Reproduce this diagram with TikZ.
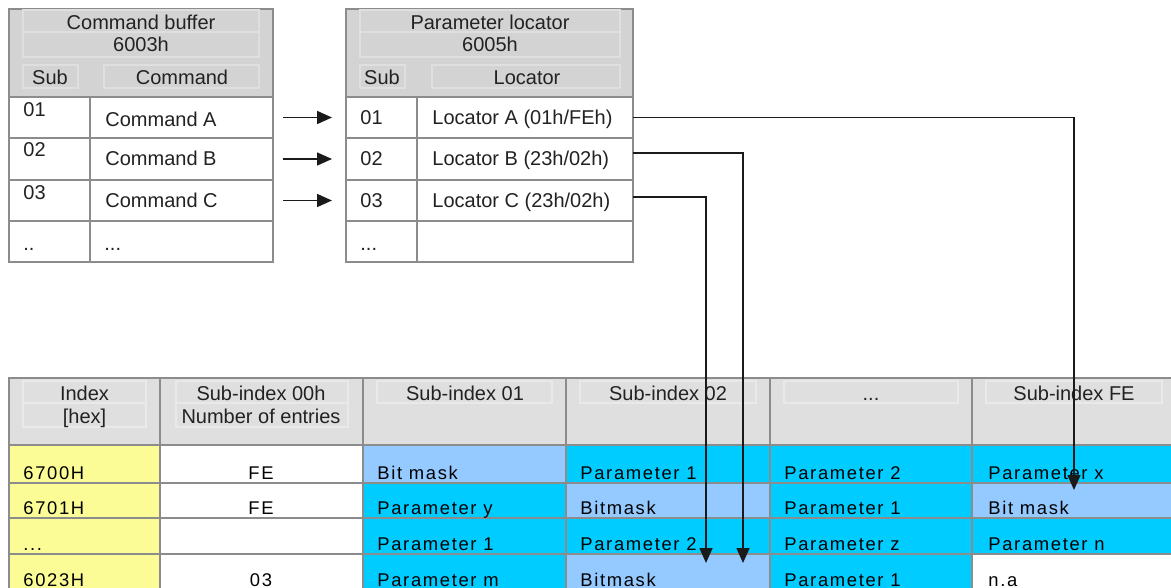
\documentclass[tikz,border=0pt]{standalone}
\usepackage{fontspec}
\setmainfont{Liberation Sans}
\newfontfamily\bodyfont[LetterSpace=9]{Liberation Sans}
\usetikzlibrary{arrows.meta}
\definecolor{gridc}{HTML}{8C8C8C}
\definecolor{hdrtop}{HTML}{D3D3D3}
\definecolor{hdrbot}{HTML}{DFDFDF}
\definecolor{innerc}{HTML}{DFDFDF}
\definecolor{innerb}{HTML}{E9E9E9}
\definecolor{yel}{HTML}{FCFC96}
\definecolor{lblue}{HTML}{94CAFF}
\definecolor{cyn}{HTML}{00CCFF}
\definecolor{txtc}{HTML}{222222}
\definecolor{connc}{HTML}{1A1A1A}
\tikzset{
  cellb/.style={draw=gridc, line width=0.75pt, inner sep=0pt, outer sep=0pt, anchor=north west, rectangle},
  txt/.style={inner sep=0pt, anchor=base west, text=txtc, font=\fontsize{10}{12}\selectfont},
  ctxt/.style={txt, anchor=base},
  btxt/.style={txt, text=black, font=\bodyfont\fontsize{9.2}{11}\selectfont},
  bctxt/.style={btxt, anchor=base},
  innerline/.style={draw=innerc, line width=0.6pt},
  innerlineb/.style={draw=innerb, line width=0.6pt},
  conn/.style={draw=connc, line width=0.8pt, -{Triangle[length=7.5pt,width=6.5pt]}},
}
\newcommand\cell[6]{\node[cellb,fill=#6,minimum width={(#4-#2)*0.5pt},minimum height={(#5-#3)*0.5pt}] (#1) at (#2,#3) {};}
\begin{document}
\begin{tikzpicture}[x=0.5pt,y=-0.5pt]
\useasboundingbox (0,0) rectangle (1171,588);
\clip (0,0) rectangle (1171,588);
\fill[white] (0,0) rectangle (1171,588);
% ---------- Command buffer ----------
\cell{cbh}{9}{9}{273}{97}{hdrtop}
\draw[innerline] (23,10) rectangle (259,57) (23,32) -- (259,32);
\draw[innerline] (23,65) rectangle (78,88) (104,65) rectangle (259,88);
\node[ctxt] (cbt1) at (141,30) {Command buffer};
\node[ctxt] (cbt2) at (141,52) {6003h};
\node[ctxt] (cbs) at (50,85) {Sub};
\node[ctxt] (cbc) at (182,85) {Command};
\cell{cs1}{9}{97}{90}{138}{white}\cell{cc1}{90}{97}{273}{138}{white}
\cell{cs2}{9}{138}{90}{180}{white}\cell{cc2}{90}{138}{273}{180}{white}
\cell{cs3}{9}{180}{90}{221}{white}\cell{cc3}{90}{180}{273}{221}{white}
\cell{cs4}{9}{221}{90}{262}{white}\cell{cc4}{90}{221}{273}{262}{white}
\node[txt] (cst1) at (23,117) {01};
\node[txt] (cct1) at (105,127) {Command A};
\node[txt] (cst2) at (23,157) {02};
\node[txt] (cct2) at (105,166) {Command B};
\node[txt] (cst3) at (23,199) {03};
\node[txt] (cct3) at (105,207) {Command C};
\node[txt] (cst4) at (23,250) {..};
\node[txt] (cct4) at (104,250) {...};
% ---------- Parameter locator ----------
\cell{lh}{346}{9}{633}{97}{hdrtop}
\draw[innerline] (360,10) rectangle (620,57) (360,32) -- (620,32);
\draw[innerline] (360,65) rectangle (405,88) (432,65) rectangle (620,88);
\node[ctxt] (lht1) at (490,30) {Parameter locator};
\node[ctxt] (lht2) at (490,52) {6005h};
\node[ctxt] (lhs) at (382,85) {Sub};
\node[ctxt] (lhl) at (527,85) {Locator};
\cell{ls1}{346}{97}{417}{138}{white}\cell{l1}{417}{97}{633}{138}{white}
\cell{ls2}{346}{138}{417}{180}{white}\cell{l2}{417}{138}{633}{180}{white}
\cell{ls3}{346}{180}{417}{221}{white}\cell{l3}{417}{180}{633}{221}{white}
\cell{ls4}{346}{221}{417}{262}{white}\cell{l4}{417}{221}{633}{262}{white}
\node[txt] (lst1) at (360,125) {01};
\node[txt] (lt1) at (432,125) {Locator A (01h/FEh)};
\node[txt] (lst2) at (360,166) {02};
\node[txt] (lt2) at (432,166) {Locator B (23h/02h)};
\node[txt] (lst3) at (360,207) {03};
\node[txt] (lt3) at (432,207) {Locator C (23h/02h)};
\node[txt] (lst4) at (360,250) {...};
% ---------- Object table ----------
\cell{hi}{9}{378}{160}{445}{hdrbot}
\cell{h0}{160}{378}{363}{445}{hdrbot}
\cell{h1}{363}{378}{566}{445}{hdrbot}
\cell{h2}{566}{378}{770}{445}{hdrbot}
\cell{h3}{770}{378}{972}{445}{hdrbot}
\cell{h4}{972}{378}{1176}{445}{hdrbot}
\draw[innerlineb] (23,381) rectangle (146,427) (23,403) -- (146,403);
\draw[innerlineb] (176,381) rectangle (348,427) (176,403) -- (348,403);
\draw[innerlineb] (377,381) rectangle (552,403);
\draw[innerlineb] (580,381) rectangle (756,403);
\draw[innerlineb] (784,381) rectangle (958,403);
\draw[innerlineb] (986,381) rectangle (1162,403);
\node[ctxt] (hit1) at (84.5,400) {Index};
\node[ctxt] (hit2) at (84.5,423) {[hex]};
\node[ctxt] (h0t1) at (261,400) {Sub-index 00h};
\node[ctxt] (h0t2) at (261,423) {Number of entries};
\node[ctxt] (h1t) at (465,400) {Sub-index 01};
\node[ctxt] (h2t) at (668,400) {Sub-index 02};
\node[ctxt] (h3t) at (871,400) {...};
\node[ctxt] (h4t) at (1074,400) {Sub-index FE};
% rows
\cell{i1}{9}{445}{160}{483}{yel}\cell{z1}{160}{445}{363}{483}{white}
\cell{a1}{363}{445}{566}{483}{lblue}\cell{b1}{566}{445}{770}{483}{cyn}
\cell{c1}{770}{445}{972}{483}{cyn}\cell{d1}{972}{445}{1176}{483}{cyn}
\cell{i2}{9}{483}{160}{518}{yel}\cell{z2}{160}{483}{363}{518}{white}
\cell{a2}{363}{483}{566}{518}{cyn}\cell{b2}{566}{483}{770}{518}{lblue}
\cell{c2}{770}{483}{972}{518}{cyn}\cell{d2}{972}{483}{1176}{518}{lblue}
\cell{i3}{9}{518}{160}{554}{yel}\cell{z3}{160}{518}{363}{554}{white}
\cell{a3}{363}{518}{566}{554}{cyn}\cell{b3}{566}{518}{770}{554}{cyn}
\cell{c3}{770}{518}{972}{554}{cyn}\cell{d3}{972}{518}{1176}{554}{cyn}
\cell{i4}{9}{554}{160}{596}{yel}\cell{z4}{160}{554}{363}{596}{white}
\cell{a4}{363}{554}{566}{596}{cyn}\cell{b4}{566}{554}{770}{596}{lblue}
\cell{c4}{770}{554}{972}{596}{cyn}\cell{d4}{972}{554}{1176}{596}{white}
% row texts
\node[btxt] (i1t) at (23,479) {6700H};
\node[bctxt] (z1t) at (261,479) {FE};
\node[btxt] (a1t) at (377,479) {Bit mask};
\node[btxt] (b1t) at (580,479) {Parameter 1};
\node[btxt] (c1t) at (784,479) {Parameter 2};
\node[btxt] (d1t) at (988,479) {Parameter x};
\node[btxt] (i2t) at (23,514) {6701H};
\node[bctxt] (z2t) at (261,514) {FE};
\node[btxt] (a2t) at (377,514) {Parameter y};
\node[btxt] (b2t) at (580,514) {Bitmask};
\node[btxt] (c2t) at (784,514) {Parameter 1};
\node[btxt] (d2t) at (988,514) {Bit mask};
\node[btxt] (i3t) at (23,550) {...};
\node[btxt] (a3t) at (377,550) {Parameter 1};
\node[btxt] (b3t) at (580,550) {Parameter 2};
\node[btxt] (c3t) at (784,550) {Parameter z};
\node[btxt] (d3t) at (988,550) {Parameter n};
\node[btxt] (i4t) at (23,586) {6023H};
\node[bctxt] (z4t) at (261,586) {03};
\node[btxt] (a4t) at (377,586) {Parameter m};
\node[btxt] (b4t) at (580,586) {Bitmask};
\node[btxt] (c4t) at (784,586) {Parameter 1};
\node[btxt] (d4t) at (988,586) {n.a};
% ---------- connectors ----------
\draw[conn, shorten <=5pt, shorten >=7pt] (cc1.east) -- (ls1.west);
\draw[conn, shorten <=5pt, shorten >=7pt] (cc2.east) -- (ls2.west);
\draw[conn, shorten <=5pt, shorten >=7pt] (cc3.east) -- (ls3.west);
\coordinate (tB) at (743,563);
\coordinate (tC) at (706,563);
\draw[conn] (l1.east) -| ([yshift=-3.5pt]d2.north);
\draw[conn] ([yshift=3pt]l2.east) -| (tB);
\draw[conn] ([yshift=1.75pt]l3.east) -| (tC);
\end{tikzpicture}
\end{document}
